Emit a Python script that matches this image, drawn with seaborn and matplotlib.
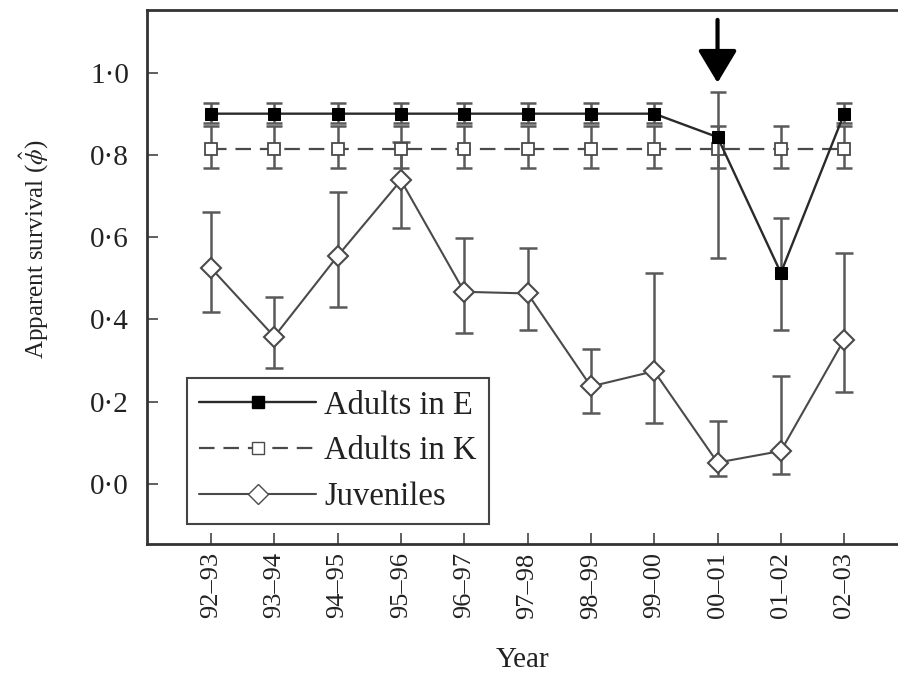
import numpy as np
import pandas as pd
import seaborn as sns
import matplotlib
matplotlib.use("Agg")
import matplotlib.pyplot as plt
from matplotlib.lines import Line2D

years = ["92\u201393", "93\u201394", "94\u201395", "95\u201396", "96\u201397", "97\u201398",
         "98\u201399", "99\u201300", "00\u201301", "01\u201302", "02\u201303"]

adults_E = [0.900, 0.900, 0.900, 0.900, 0.900, 0.900, 0.900, 0.900, 0.843, 0.513, 0.900]
adults_E_lo = [0.877, 0.877, 0.877, 0.877, 0.877, 0.877, 0.877, 0.877, 0.55, 0.373, 0.877]
adults_E_hi = [0.925, 0.925, 0.925, 0.925, 0.925, 0.925, 0.925, 0.925, 0.952, 0.646, 0.925]

adults_K = [0.815] * 11
adults_K_lo = [0.768] * 11
adults_K_hi = [0.869] * 11

juveniles = [0.525, 0.358, 0.554, 0.738, 0.467, 0.463, 0.237, 0.274, 0.052, 0.080, 0.351]
juveniles_lo = [0.419, 0.283, 0.431, 0.622, 0.368, 0.375, 0.172, 0.148, 0.019, 0.024, 0.223]
juveniles_hi = [0.661, 0.455, 0.709, 0.830, 0.598, 0.574, 0.327, 0.513, 0.152, 0.262, 0.562]

yticks = [0.0, 0.2, 0.4, 0.6, 0.8, 1.0]
ytick_labels = ["0\u00b70", "0\u00b72", "0\u00b74", "0\u00b76", "0\u00b78", "1\u00b70"]
arrow_year_index = 8

sns.set_style("ticks")
plt.rcParams["font.family"] = ["Liberation Serif", "DejaVu Serif"]
plt.rcParams["mathtext.fontset"] = "stix"

x = np.arange(len(years))
df = pd.DataFrame({"x": x, "E": adults_E, "K": adults_K, "J": juveniles})

fig = plt.figure(figsize=(8.98, 6.79), dpi=100)
ax = fig.add_axes([147 / 898, 135 / 679, 1 - 147 / 898, 534 / 679])

line_col = "#4a4a4a"
err_col = "#595959"
txt_col = "#222222"

def errs(v, lo, hi):
    v = np.array(v); lo = np.array(lo); hi = np.array(hi)
    return np.vstack([v - lo, hi - v])

# juveniles
ax.errorbar(x, juveniles, yerr=errs(juveniles, juveniles_lo, juveniles_hi), fmt="none",
            ecolor=err_col, elinewidth=1.8, capsize=6.5, capthick=1.8, zorder=2)
sns.lineplot(data=df, x="x", y="J", ax=ax, color=line_col, lw=1.5, marker="D",
             markersize=10.5, markerfacecolor="white", markeredgecolor=line_col,
             markeredgewidth=1.5, zorder=3)
# adults K
ax.errorbar(x, adults_K, yerr=errs(adults_K, adults_K_lo, adults_K_hi), fmt="none",
            ecolor=err_col, elinewidth=1.8, capsize=6, capthick=1.8, zorder=4)
sns.lineplot(data=df, x="x", y="K", ax=ax, color=line_col, lw=1.6, marker="s",
             markersize=8, markerfacecolor="white", markeredgecolor=line_col,
             markeredgewidth=1.3, dashes=(7, 4), zorder=5)
# adults E
ax.errorbar(x, adults_E, yerr=errs(adults_E, adults_E_lo, adults_E_hi), fmt="none",
            ecolor=err_col, elinewidth=1.8, capsize=6, capthick=1.8, zorder=6)
sns.lineplot(data=df, x="x", y="E", ax=ax, color="#2a2a2a", lw=1.7, marker="s",
             markersize=9, markerfacecolor="black", markeredgecolor="black", zorder=7)

ax.annotate("", xy=(x[arrow_year_index], 0.975), xytext=(x[arrow_year_index], 1.128),
            arrowprops=dict(arrowstyle="-|>,head_length=2.0,head_width=1.2",
                            color="black", lw=3, shrinkA=0, shrinkB=0), zorder=8)

ax.set_xlim(-1.01, 10.85)
ax.set_ylim(-0.146, 1.152)
ax.set_xticks(x)
ax.set_xticklabels(years, rotation=90, fontsize=19, color=txt_col)
ax.set_yticks(yticks)
ax.set_yticklabels(ytick_labels, fontsize=21, color=txt_col)
ax.tick_params(direction="in", length=8, width=1.2, color="#444444")
ax.tick_params(axis="y", pad=13)
ax.tick_params(axis="x", pad=6)
ax.set_xlabel("Year", fontsize=21, color=txt_col)
ax.xaxis.set_label_coords(0.5, -0.193)
ax.set_ylabel(r"Apparent survival ($\hat{\phi}$)", fontsize=18, color=txt_col)
ax.yaxis.set_label_coords(-0.128, 0.551)
for s in ["left", "bottom", "top"]:
    ax.spines[s].set_linewidth(2.0)
    ax.spines[s].set_color("#333333")
ax.spines["right"].set_visible(False)

handles = [
    Line2D([], [], color="#2a2a2a", lw=1.7, marker="s", markersize=9,
           markerfacecolor="black", markeredgecolor="black"),
    Line2D([], [], color=line_col, lw=1.6, marker="s", markersize=8, dashes=(7, 4),
           markerfacecolor="white", markeredgecolor=line_col),
    Line2D([], [], color=line_col, lw=1.5, marker="D", markersize=10.5,
           markerfacecolor="white", markeredgecolor=line_col),
]
leg = ax.legend(handles, ["Adults in E", "Adults in K", "Juveniles"],
                loc="lower left", bbox_to_anchor=(0.0533, 0.0375), borderaxespad=0,
                fontsize=23.5, handlelength=3.6, fancybox=False, framealpha=1,
                edgecolor="#444444", borderpad=0.36, labelspacing=0.47,
                handletextpad=0.25)
for t in leg.get_texts():
    t.set_color(txt_col)
leg.get_frame().set_linewidth(1.5)

fig.savefig("out.png", dpi=100)
